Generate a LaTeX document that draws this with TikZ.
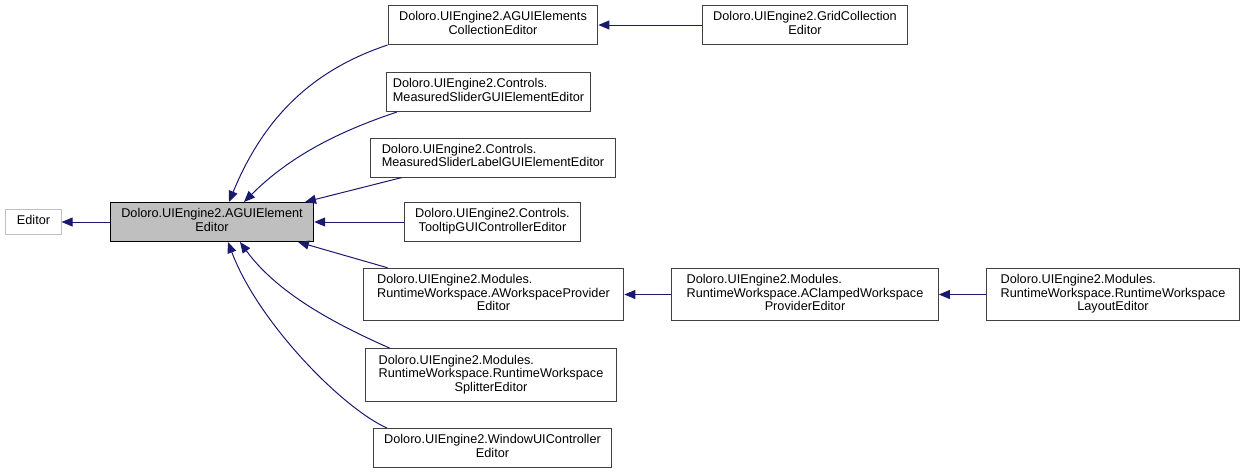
\documentclass[tikz,border=0pt]{standalone}
\usepackage{fontspec}
\setmainfont{Liberation Sans}
\usepackage{xcolor}
\definecolor{edgenavy}{RGB}{25, 25, 112}
\definecolor{boxborder}{RGB}{64, 64, 64}
\definecolor{mainfill}{RGB}{191, 191, 191}
\definecolor{extborder}{RGB}{191, 191, 191}
\usepackage{tikz}
\usetikzlibrary{arrows.meta}
\newcommand{\clsfont}{\fontsize{12.7pt}{13.5pt}\selectfont}
\newcommand{\clstext}[2]{\begin{tabular}{@{}l@{}}#1\\\multicolumn{1}{@{}c@{}}{#2}\end{tabular}}

\begin{document}
\begin{tikzpicture}[x=1pt, y=-1pt,
    cls/.style={draw=boxborder, fill=white, line width=1pt, inner xsep=11pt, inner ysep=6pt, font=\clsfont},
    inh/.style={->, >={Triangle[length=11pt, width=9pt]}, draw=edgenavy, line width=1pt}]
    \useasboundingbox (0,0) rectangle (1247,475);

    % Base and documented class
    \node[cls, draw=extborder] (editor) at (33.5,222) {\strut Editor};
    \node[cls, fill=mainfill, draw=black] (main) at (212,222) {\clstext{Doloro.UIEngine2.AGUIElement}{Editor}};

    % Derived classes
    \node[cls] (coll) at (493,25) {\clstext{Doloro.UIEngine2.AGUIElements}{CollectionEditor}};
    \node[cls] (grid) at (805,25) {\clstext{Doloro.UIEngine2.GridCollection}{Editor}};
    \node[cls, inner xsep=6.5pt] (slider) at (488.5,92) {\clstext{Doloro.UIEngine2.Controls.}{MeasuredSliderGUIElementEditor}};
    \node[cls] (label) at (493,157.5) {\clstext{Doloro.UIEngine2.Controls.}{MeasuredSliderLabelGUIElementEditor}};
    \node[cls] (tooltip) at (492.5,222) {\clstext{Doloro.UIEngine2.Controls.}{TooltipGUIControllerEditor}};
    \node[cls, inner xsep=14pt] (aws) at (493.5,294.5) {\clstext{Doloro.UIEngine2.Modules.\\RuntimeWorkspace.AWorkspaceProvider}{Editor}};
    \node[cls, inner xsep=15pt] (clamped) at (805,294.5) {\clstext{Doloro.UIEngine2.Modules.\\RuntimeWorkspace.AClampedWorkspace}{ProviderEditor}};
    \node[cls, inner xsep=14.5pt] (layout) at (1113,294.5) {\clstext{Doloro.UIEngine2.Modules.\\RuntimeWorkspace.RuntimeWorkspace}{LayoutEditor}};
    \node[cls, inner xsep=13pt] (splitter) at (491,375) {\clstext{Doloro.UIEngine2.Modules.\\RuntimeWorkspace.RuntimeWorkspace}{SplitterEditor}};
    \node[cls] (window) at (492.5,448) {\clstext{Doloro.UIEngine2.WindowUIController}{Editor}};

    % Inheritance edges
    \draw[inh] (main) -- (editor);
    \draw[inh] (coll.south west) .. controls +(-75,25) and +(35,-85) .. ([xshift=17pt]main.north);
    \draw[inh] ([xshift=-91.5pt]slider.south) .. controls +(-60,20) and +(45,-45) .. ([xshift=32pt]main.north);
    \draw[inh] ([xshift=-91pt]label.south) -- ([xshift=93pt]main.north);
    \draw[inh] (tooltip) -- (main);
    \draw[inh] ([xshift=-106pt]aws.north) -- ([xshift=86pt]main.south);
    \draw[inh] ([xshift=-101pt]splitter.north) .. controls +(-45,-20) and +(40,55) .. ([xshift=28pt]main.south);
    \draw[inh] ([xshift=-105.5pt]window.north) .. controls +(-45,-20) and +(30,80) .. ([xshift=16pt]main.south);
    \draw[inh] (grid) -- (coll);
    \draw[inh] (clamped) -- (aws);
    \draw[inh] (layout) -- (clamped);
\end{tikzpicture}
\end{document}
